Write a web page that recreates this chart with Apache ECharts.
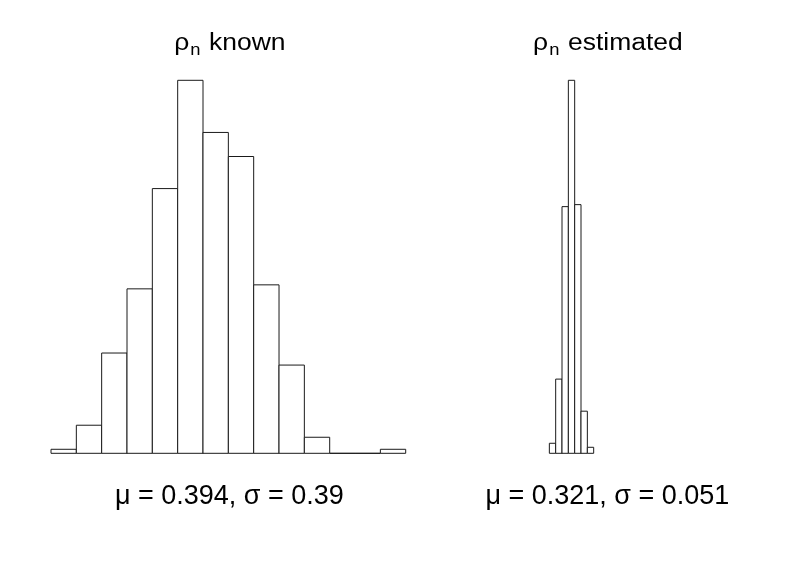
<!DOCTYPE html>
<html lang="en">
<head>
<meta charset="utf-8">
<title>rho_n histograms</title>
<script src="https://cdn.jsdelivr.net/npm/echarts@6/dist/echarts.min.js"></script>
<style>
html,body{margin:0;padding:0;background:#fff;}
#main{width:789px;height:568px;}
</style>
</head>
<body>
<div id="main"></div>
<script>
// bin edges and counts
var knownBreaks = [-0.8,-0.6,-0.4,-0.2,0,0.2,0.4,0.6,0.8,1.0,1.2,1.4,1.6,1.8,2.0];
var knownCounts = [1,7,25,41,66,93,80,74,42,22,4,0,0,1];
var estBreaks = [0.15,0.2,0.25,0.3,0.35,0.4,0.45,0.5];
var estCounts = [5,37,123,186,124,21,3];
var titles = ['known', 'estimated'];
var stats = ['μ = 0.394, σ = 0.39', 'μ = 0.321, σ = 0.051'];

function toBins(br, cnt){
  var out = [];
  for(var i=0;i<cnt.length;i++){ out.push([br[i], br[i+1], cnt[i]]); }
  return out;
}

function renderBin(params, api){
  var p0 = api.coord([api.value(0), api.value(2)]);
  var p1 = api.coord([api.value(1), 0]);
  return {
    type:'rect',
    shape:{x:p0[0], y:p0[1], width:p1[0]-p0[0], height:p1[1]-p0[1]},
    style:{fill:'#fff', stroke:'#1a1a1a', lineWidth:1}
  };
}

var font = '"Liberation Sans", Arial, sans-serif';
var rich = {
  r:{fontSize:23, fontFamily:font, color:'#000', lineHeight:30, verticalAlign:'middle'},
  s:{fontSize:16, fontFamily:font, color:'#000', lineHeight:21, verticalAlign:'bottom', padding:[0,1,0,1]}
};

// both panels share the same x range, panel centres
var gridLeft = [51, 429], gridW = 354.7;
var graphics = [];
for(var k=0;k<2;k++){
  var cx = gridLeft[k] + gridW/2;
  graphics.push({type:'text', x:cx+1.5, y:44, scaleX:1.15,
    style:{text:'{r|ρ}{s|n}{r| ' + titles[k] + '}', rich:rich, align:'center', verticalAlign:'middle'}});
  graphics.push({type:'text', x:cx+1, y:497,
    style:{text:stats[k], font:'27px ' + font, fill:'#000', align:'center', verticalAlign:'middle'}});
}

var chart = echarts.init(document.getElementById('main'));
chart.setOption({
  animation:false,
  backgroundColor:'#fff',
  grid:[
    {left:gridLeft[0], top:80.3, width:gridW, height:373},
    {left:gridLeft[1], top:80.3, width:gridW, height:373}
  ],
  xAxis:[
    {type:'value', gridIndex:0, min:-0.8, max:2.0, show:false},
    {type:'value', gridIndex:1, min:-0.8, max:2.0, show:false}
  ],
  yAxis:[
    {type:'value', gridIndex:0, min:0, max:93, show:false},
    {type:'value', gridIndex:1, min:0, max:186, show:false}
  ],
  graphic:graphics,
  series:[
    {type:'custom', xAxisIndex:0, yAxisIndex:0, renderItem:renderBin, data:toBins(knownBreaks, knownCounts)},
    {type:'custom', xAxisIndex:1, yAxisIndex:1, renderItem:renderBin, data:toBins(estBreaks, estCounts)}
  ]
});
</script>
</body>
</html>
